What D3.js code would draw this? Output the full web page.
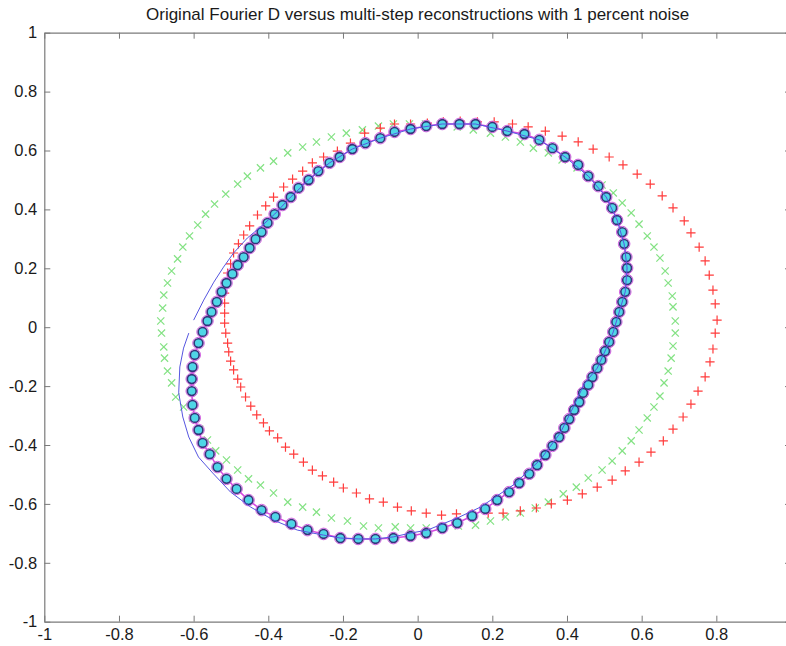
<!DOCTYPE html>
<html>
<head>
<meta charset="utf-8">
<script src="https://cdn.jsdelivr.net/npm/d3@7"></script>
<style>
  html, body { margin: 0; padding: 0; background: #ffffff; }
  svg { display: block; }
</style>
</head>
<body>
<svg id="chart" width="786" height="646"></svg>
<script>
// ---------- data ----------
const titleText = "Original Fourier D versus multi-step reconstructions with 1 percent noise";
// the x = 1 tick sits just beyond the right edge of the picture, so it is not labelled
const xTickValues = [-1, -0.8, -0.6, -0.4, -0.2, 0, 0.2, 0.4, 0.6, 0.8];
const xTickLabels = ["-1", "-0.8", "-0.6", "-0.4", "-0.2", "0", "0.2", "0.4", "0.6", "0.8"];
const yTickValues = [-1, -0.8, -0.6, -0.4, -0.2, 0, 0.2, 0.4, 0.6, 0.8, 1];
const yTickLabels = ["-1", "-0.8", "-0.6", "-0.4", "-0.2", "0", "0.2", "0.4", "0.6", "0.8", "1"];

// original shape samples (cyan circles, joined by magenta line)
const origX = [-0.100,-0.062,-0.019,0.023,0.066,0.112,0.155,0.200,0.240,0.286,
  0.326,0.361,0.395,0.430,0.457,0.484,0.505,0.521,0.534,0.548,
  0.553,0.559,0.561,0.561,0.556,0.548,0.540,0.532,0.524,0.513,
  0.502,0.492,0.481,0.468,0.457,0.443,0.433,0.419,0.406,0.393,
  0.379,0.361,0.342,0.320,0.299,0.272,0.245,0.213,0.181,0.146,
  0.106,0.066,0.023,-0.019,-0.065,-0.113,-0.159,-0.207,-0.252,-0.295,
  -0.338,-0.381,-0.418,-0.453,-0.485,-0.512,-0.536,-0.557,-0.576,-0.587,
  -0.597,-0.603,-0.605,-0.605,-0.603,-0.597,-0.587,-0.576,-0.563,-0.552,
  -0.538,-0.525,-0.512,-0.496,-0.482,-0.466,-0.450,-0.434,-0.418,-0.402,
  -0.383,-0.362,-0.340,-0.319,-0.292,-0.266,-0.236,-0.209,-0.175,-0.140];
const origY = [0.642,0.663,0.673,0.683,0.690,0.690,0.690,0.680,0.666,0.656,
  0.636,0.608,0.578,0.551,0.513,0.479,0.442,0.405,0.364,0.323,
  0.283,0.238,0.201,0.160,0.120,0.086,0.052,0.018,-0.016,-0.050,
  -0.081,-0.111,-0.139,-0.169,-0.196,-0.223,-0.254,-0.281,-0.312,-0.342,
  -0.373,-0.403,-0.434,-0.468,-0.498,-0.529,-0.560,-0.587,-0.617,-0.641,
  -0.665,-0.682,-0.699,-0.709,-0.716,-0.719,-0.719,-0.716,-0.702,-0.689,
  -0.668,-0.644,-0.621,-0.587,-0.549,-0.515,-0.475,-0.431,-0.393,-0.349,
  -0.308,-0.264,-0.217,-0.176,-0.135,-0.094,-0.054,-0.016,0.021,0.052,
  0.086,0.120,0.150,0.181,0.211,0.238,0.269,0.299,0.323,0.354,
  0.384,0.415,0.442,0.473,0.500,0.530,0.558,0.578,0.605,0.625];

// green x reconstruction
const greenX = [-0.148,-0.105,-0.065,-0.022,0.021,0.064,0.106,0.149,0.195,0.235,
  0.275,0.310,0.350,0.387,0.427,0.462,0.494,0.524,0.548,0.572,
  0.593,0.615,0.633,0.649,0.663,0.671,0.682,0.684,0.690,0.690,
  0.684,0.679,0.671,0.660,0.649,0.633,0.615,0.593,0.572,0.548,
  0.521,0.494,0.457,0.425,0.390,0.350,0.315,0.275,0.235,0.195,
  0.155,0.109,0.066,0.023,-0.019,-0.060,-0.105,-0.145,-0.188,-0.231,
  -0.271,-0.308,-0.348,-0.386,-0.421,-0.453,-0.482,-0.512,-0.541,-0.563,
  -0.584,-0.603,-0.627,-0.648,-0.659,-0.670,-0.678,-0.680,-0.686,-0.688,
  -0.683,-0.680,-0.670,-0.659,-0.643,-0.629,-0.611,-0.589,-0.568,-0.544,
  -0.514,-0.482,-0.456,-0.421,-0.386,-0.348,-0.308,-0.271,-0.231,-0.191];
const greenY = [0.670,0.683,0.690,0.690,0.690,0.687,0.680,0.670,0.659,0.646,
  0.629,0.608,0.592,0.568,0.541,0.510,0.483,0.456,0.422,0.388,
  0.350,0.310,0.272,0.235,0.191,0.150,0.106,0.069,0.021,-0.020,
  -0.064,-0.105,-0.149,-0.189,-0.234,-0.271,-0.308,-0.349,-0.386,-0.420,
  -0.454,-0.485,-0.512,-0.543,-0.566,-0.594,-0.614,-0.631,-0.644,-0.658,
  -0.672,-0.675,-0.678,-0.682,-0.682,-0.678,-0.682,-0.675,-0.658,-0.648,
  -0.628,-0.611,-0.594,-0.563,-0.536,-0.515,-0.485,-0.451,-0.420,-0.383,
  -0.346,-0.308,-0.271,-0.237,-0.189,-0.149,-0.105,-0.067,-0.020,0.021,
  0.065,0.109,0.150,0.191,0.232,0.272,0.310,0.347,0.384,0.418,
  0.452,0.486,0.513,0.541,0.564,0.592,0.612,0.629,0.646,0.659];

// red + reconstruction
const redX = [-0.180,-0.142,-0.100,-0.062,-0.019,0.026,0.069,0.114,0.160,0.205,
  0.254,0.296,0.342,0.387,0.430,0.470,0.513,0.550,0.588,0.623,
  0.655,0.684,0.714,0.732,0.754,0.770,0.781,0.791,0.797,0.802,
  0.797,0.791,0.783,0.770,0.751,0.732,0.711,0.684,0.658,0.625,
  0.593,0.556,0.521,0.481,0.441,0.401,0.358,0.318,0.275,0.229,
  0.189,0.146,0.104,0.064,0.023,-0.017,-0.054,-0.092,-0.129,-0.164,
  -0.199,-0.225,-0.255,-0.282,-0.306,-0.332,-0.354,-0.375,-0.397,-0.413,
  -0.431,-0.447,-0.461,-0.474,-0.482,-0.493,-0.501,-0.506,-0.509,-0.514,
  -0.517,-0.517,-0.517,-0.517,-0.514,-0.509,-0.501,-0.493,-0.480,-0.466,
  -0.450,-0.429,-0.407,-0.386,-0.359,-0.335,-0.308,-0.282,-0.252,-0.215];
const redY = [0.625,0.659,0.676,0.690,0.690,0.693,0.697,0.700,0.697,0.697,
  0.690,0.680,0.666,0.649,0.629,0.605,0.578,0.551,0.520,0.486,
  0.446,0.405,0.361,0.320,0.272,0.225,0.177,0.126,0.079,0.024,
  -0.020,-0.074,-0.118,-0.169,-0.217,-0.261,-0.305,-0.346,-0.386,-0.424,
  -0.458,-0.488,-0.519,-0.543,-0.566,-0.587,-0.600,-0.614,-0.624,-0.631,
  -0.631,-0.634,-0.634,-0.638,-0.631,-0.624,-0.611,-0.594,-0.583,-0.563,
  -0.546,-0.526,-0.505,-0.485,-0.458,-0.431,-0.407,-0.376,-0.352,-0.325,
  -0.298,-0.268,-0.237,-0.203,-0.176,-0.145,-0.115,-0.084,-0.054,-0.020,
  0.014,0.048,0.082,0.116,0.150,0.184,0.215,0.252,0.283,0.313,
  0.344,0.381,0.412,0.442,0.476,0.503,0.530,0.558,0.578,0.598];

// thin blue line reconstruction (open curve, gap on the left)
const blueX = [-0.600,-0.573,-0.546,-0.520,-0.493,-0.456,-0.421,-0.383,-0.340,-0.292,
  -0.236,-0.175,-0.100,-0.019,0.066,0.155,0.240,0.326,0.395,0.457,
  0.505,0.534,0.553,0.561,0.556,0.540,0.524,0.502,0.481,0.446,
  0.417,0.382,0.328,0.256,0.168,0.106,0.026,-0.019,-0.065,-0.113,
  -0.159,-0.207,-0.252,-0.322,-0.386,-0.447,-0.501,-0.549,-0.587,-0.613,
  -0.629,-0.640,-0.637,-0.627,-0.613];
const blueY = [0.024,0.092,0.153,0.204,0.252,0.303,0.340,0.384,0.442,0.500,
  0.558,0.605,0.642,0.673,0.690,0.690,0.666,0.636,0.578,0.513,
  0.442,0.364,0.283,0.201,0.120,0.052,-0.016,-0.081,-0.139,-0.193,
  -0.271,-0.359,-0.451,-0.536,-0.611,-0.648,-0.689,-0.699,-0.712,-0.719,
  -0.719,-0.716,-0.706,-0.689,-0.655,-0.611,-0.560,-0.495,-0.441,-0.373,
  -0.305,-0.223,-0.135,-0.071,-0.020];

// ---------- layout ----------
const plotLeft = 44.3, plotRight = 791, plotTop = 32.7, plotBottom = 621.7;
const svg = d3.select("#chart");
const x = d3.scaleLinear().domain([-1, 1]).range([plotLeft, plotRight]);
const y = d3.scaleLinear().domain([-1, 1]).range([plotBottom, plotTop]);
const FONT = "'Liberation Sans', Arial, Helvetica, sans-serif";
const axisColor = "#7a7a7a";

// title
svg.append("text")
  .attr("x", (plotLeft + plotRight) / 2)
  .attr("y", 20)
  .attr("text-anchor", "middle")
  .attr("font-family", FONT)
  .attr("font-size", 17)
  .attr("fill", "#1a1a1a")
  .text(titleText);

// axes
function styleAxis(g, fs) {
  g.selectAll(".domain").attr("stroke", axisColor).attr("stroke-width", 1.2);
  g.selectAll(".tick line").attr("stroke", axisColor).attr("stroke-width", 1);
  g.selectAll(".tick text").attr("fill", "#1a1a1a").attr("font-family", FONT).attr("font-size", fs);
}
const xAxis = d3.axisBottom(x).tickValues(xTickValues)
  .tickFormat((d, i) => xTickLabels[i]).tickSizeInner(-6).tickSizeOuter(0).tickPadding(7);
const gx = svg.append("g").attr("transform", `translate(0,${plotBottom})`).call(xAxis);
styleAxis(gx, 16.5);
gx.selectAll(".tick text").attr("dy", "11.5");

const xAxisTop = d3.axisTop(x).tickValues(xTickValues).tickFormat("").tickSizeInner(-6).tickSizeOuter(0);
const gxt = svg.append("g").attr("transform", `translate(0,${plotTop})`).call(xAxisTop);
styleAxis(gxt, 16.5);

const yAxis = d3.axisLeft(y).tickValues(yTickValues)
  .tickFormat((d, i) => yTickLabels[i]).tickSizeInner(-6).tickSizeOuter(0).tickPadding(7);
const gy = svg.append("g").attr("transform", `translate(${plotLeft},0)`).call(yAxis);
styleAxis(gy, 16.5);

const yAxisRight = d3.axisRight(y).tickValues(yTickValues).tickFormat("").tickSizeInner(-6).tickSizeOuter(0);
const gyr = svg.append("g").attr("transform", `translate(${plotRight},0)`).call(yAxisRight);
styleAxis(gyr, 16.5);

// ---------- marks ----------
const plot = svg.append("g");

const greenPts = greenX.map((v, i) => [v, greenY[i]]);
const redPts = redX.map((v, i) => [v, redY[i]]);
const origPts = origX.map((v, i) => [v, origY[i]]);
const bluePts = blueX.map((v, i) => [v, blueY[i]]);

// green x markers
const gs = 3.6;
plot.append("g").selectAll("path").data(greenPts).join("path")
  .attr("d", d => {
    const cx = x(d[0]), cy = y(d[1]);
    return `M${cx - gs},${cy - gs}L${cx + gs},${cy + gs}M${cx - gs},${cy + gs}L${cx + gs},${cy - gs}`;
  })
  .attr("stroke", "#84e284").attr("stroke-width", 1.2).attr("fill", "none");

// red + markers
const rs = 4.6;
plot.append("g").selectAll("path").data(redPts).join("path")
  .attr("d", d => {
    const cx = x(d[0]), cy = y(d[1]);
    return `M${cx - rs},${cy}L${cx + rs},${cy}M${cx},${cy - rs}L${cx},${cy + rs}`;
  })
  .attr("stroke", "#ff3b3b").attr("stroke-width", 1.2).attr("fill", "none");

// magenta line joining original samples
const lineGen = d3.line().x(d => x(d[0])).y(d => y(d[1]));
plot.append("path")
  .datum(origPts)
  .attr("d", d3.line().x(d => x(d[0])).y(d => y(d[1])).curve(d3.curveLinearClosed))
  .attr("fill", "none").attr("stroke", "#d448e0").attr("stroke-width", 1.5);

// original sample markers
const cg = plot.append("g");
cg.selectAll("circle.outer").data(origPts).join("circle").attr("class", "outer")
  .attr("cx", d => x(d[0])).attr("cy", d => y(d[1])).attr("r", 5.8)
  .attr("fill", "none").attr("stroke", "#d060e0").attr("stroke-width", 1);
cg.selectAll("circle.inner").data(origPts).join("circle").attr("class", "inner")
  .attr("cx", d => x(d[0])).attr("cy", d => y(d[1])).attr("r", 4.4)
  .attr("fill", "#4fd6e6").attr("stroke", "#35337a").attr("stroke-width", 1.6);

// thin blue line
plot.append("path")
  .datum(bluePts)
  .attr("d", lineGen)
  .attr("fill", "none").attr("stroke", "#5656e0").attr("stroke-width", 1);
</script>
</body>
</html>
